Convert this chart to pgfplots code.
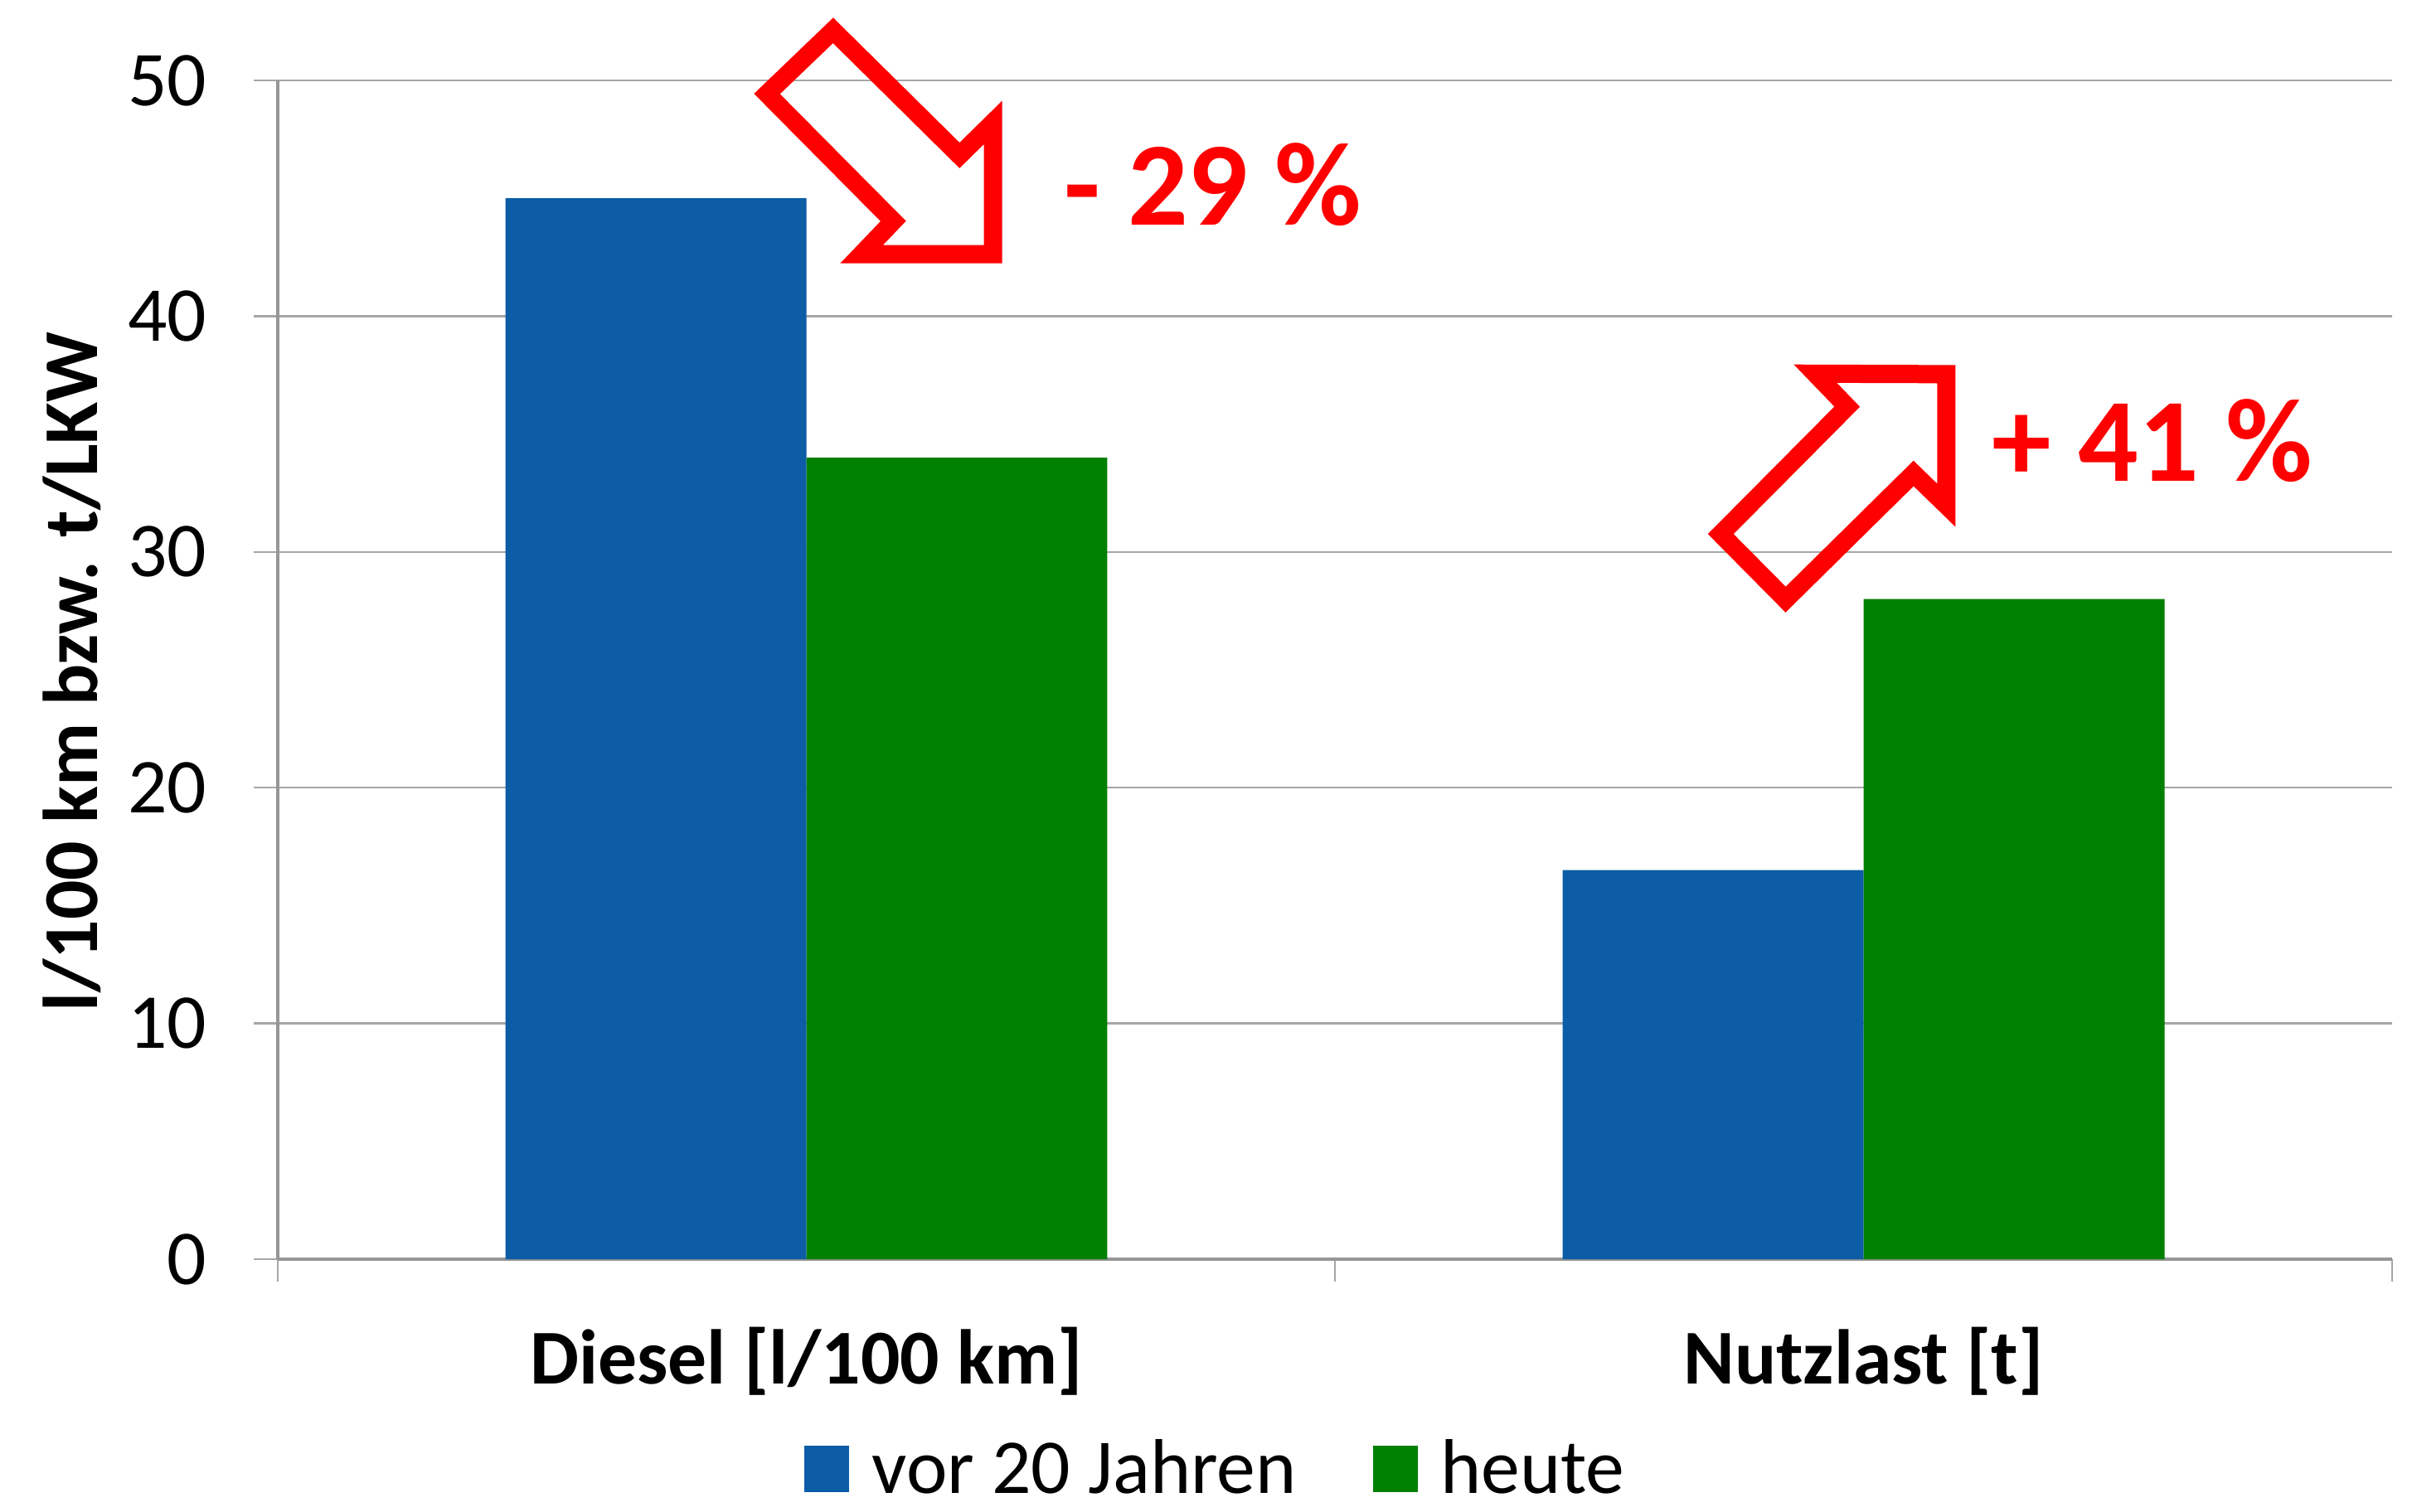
\documentclass[border=0pt]{standalone}
\usepackage{pgfplots}
\pgfplotsset{compat=1.18}
\usepackage{fontspec}
\setmainfont{Carlito}
\definecolor{barblue}{RGB}{12,92,166}
\definecolor{bargreen}{RGB}{0,128,0}
\definecolor{gridgray}{RGB}{166,166,166}
\definecolor{axisgray}{RGB}{150,150,150}
\begin{document}
\begin{tikzpicture}
\useasboundingbox (-83.75bp,-76.25bp) rectangle (645bp,379.75bp);
\begin{axis}[
  at={(0,0)}, anchor=south west,
  scale only axis, width=637.5bp, height=355.5bp,
  xmin=-0.5, xmax=1.5, ymin=0, ymax=50,
  clip=false,
  axis x line=bottom, axis y line=left,
  axis line style={-, draw=axisgray, line width=1bp},
  xtick={0,1}, xticklabels={Diesel [l/100 km], Nutzlast [t]},
  minor xtick={-0.5,0.5,1.5},
  ytick={0,10,20,30,40,50},
  tick align=outside,
  major tick length=7.25bp,
  minor tick length=6.75bp,
  major x tick style={draw=none},
  tick style={draw=gridgray, line width=0.6bp},
  ymajorgrids=true,
  major grid style={draw=gridgray, line width=0.6bp},
  /pgf/number format/assume math mode=true,
  yticklabel style={font=\fontsize{23.5}{28}\selectfont, anchor=east, inner sep=0pt, xshift=-14bp},
  xticklabel style={font=\bfseries\fontsize{23.5}{28}\selectfont, anchor=center, inner sep=0pt, yshift=-23.5bp},
  ylabel={l/100 km bzw. t/LKW},
  ylabel style={font=\bfseries\fontsize{23.5}{28}\selectfont, at={(axis description cs:-0.0973,0.498)}, anchor=center, rotate=0},
  legend columns=2,
  legend style={draw=none, fill=none, inner sep=0pt, at={(axis description cs:0.443,-0.178)}, anchor=center,
    font=\fontsize{23.5}{28}\selectfont,
    nodes={inner sep=0pt},
    /tikz/every odd column/.append style={column sep=7bp},
    /tikz/every even column/.append style={column sep=23bp}},
  legend cell align=left,
  legend image code/.code={\fill[#1] (0bp,-7bp) rectangle (13.5bp,7bp);},
]
\addplot[ybar, bar width=0.2847, bar shift=-0.14235, fill=barblue, draw=none]
  coordinates {(0,45) (1,16.5)};
\addlegendentry{vor 20 Jahren}
\addplot[ybar, bar width=0.2847, bar shift=0.14235, fill=bargreen, draw=none]
  coordinates {(0,34) (1,28)};
\addlegendentry{heute}

\draw[red, line width=5.5bp, line join=miter]
  (axis cs:0.0253,52.12) -- (axis cs:-0.0372,49.43) -- (axis cs:0.0822,44.03)
  -- (axis cs:0.0523,42.63) -- (axis cs:0.1765,42.63) -- (axis cs:0.1765,48.21)
  -- (axis cs:0.1449,46.82) -- cycle;
\draw[red, line width=5.5bp, line join=miter]
  (axis cs:1.0783,37.54) -- (axis cs:1.0783,31.98) -- (axis cs:1.0473,33.33)
  -- (axis cs:0.9263,27.98) -- (axis cs:0.8649,30.76) -- (axis cs:0.9845,36.16)
  -- (axis cs:0.9544,37.56) -- cycle;
\node[anchor=west, inner sep=0pt, text=red, font=\bfseries\fontsize{36}{40}\selectfont]
  at (axis cs:0.2435,45.57) {- 29 \%};
\node[anchor=west, inner sep=0pt, text=red, font=\bfseries\fontsize{36}{40}\selectfont]
  at (axis cs:1.1212,34.70) {+ 41 \%};
\end{axis}
\end{tikzpicture}
\end{document}
